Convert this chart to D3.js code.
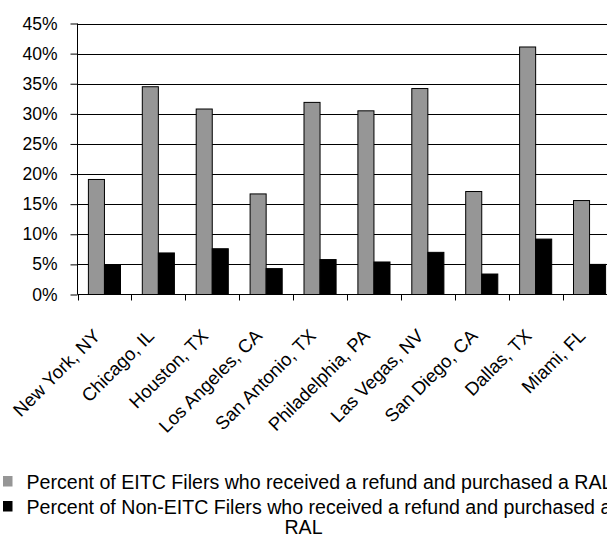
<!DOCTYPE html>
<html>
<head>
<meta charset="utf-8">
<script src="https://cdn.jsdelivr.net/npm/d3@7"></script>
<style>
  html, body { margin: 0; padding: 0; background: #fff; }
  svg { display: block; font-family: "Liberation Sans", Arial, sans-serif; }
</style>
</head>
<body>
<svg id="chart" width="607" height="543"></svg>
<script>
const categories = ["New York, NY", "Chicago, IL", "Houston, TX", "Los Angeles, CA", "San Antonio, TX",
  "Philadelphia, PA", "Las Vegas, NV", "San Diego, CA", "Dallas, TX", "Miami, FL"];
const eitcValues = [19.1, 34.5, 30.8, 16.7, 31.9, 30.5, 34.2, 17.1, 41.1, 15.6];
const nonEitcValues = [4.9, 6.9, 7.6, 4.3, 5.8, 5.4, 7.0, 3.4, 9.2, 5.0];
const seriesNames = ["Percent of EITC Filers who received a refund and purchased a RAL",
  "Percent of Non-EITC Filers who received a refund and purchased a"];
const seriesNameWrap = "RAL";
const yTicks = [0, 5, 10, 15, 20, 25, 30, 35, 40, 45];

(function () {
const seriesColors = ["#969696", "#000000"];
const svg = d3.select("#chart");

const plotLeft = 77.5, plotBottom = 294.5, plotTop = 23.5, band = 53.9;
const plotRight = plotLeft + band * categories.length;

const x0 = d3.scaleBand().domain(categories).range([plotLeft, plotRight]).padding(0);
const x1 = d3.scaleBand().domain([0, 1]).range([10.9, band - 10.9]).padding(0);
const y = d3.scaleLinear().domain([0, 45]).range([plotBottom, plotTop]);

// gridlines
svg.append("g").selectAll("line").data(yTicks.filter(d => d > 0)).join("line")
  .attr("x1", plotLeft).attr("x2", plotRight)
  .attr("y1", d => Math.round(y(d)) + 0.5).attr("y2", d => Math.round(y(d)) + 0.5)
  .attr("stroke", "#000").attr("stroke-width", 1);

// bars
const series = [eitcValues, nonEitcValues];
const groups = svg.append("g").selectAll("g").data(categories).join("g")
  .attr("transform", d => `translate(${x0(d)},0)`);
groups.selectAll("rect").data((d, i) => series.map((s, k) => ({ k, v: s[i] }))).join("rect")
  .attr("x", d => x1(d.k))
  .attr("width", x1.bandwidth())
  .attr("y", d => y(d.v))
  .attr("height", d => plotBottom - y(d.v))
  .attr("fill", d => seriesColors[d.k])
  .attr("stroke", "#000").attr("stroke-width", 1);

// y axis
const yAxis = d3.axisLeft(y).tickValues(yTicks).tickSize(7).tickPadding(13).tickFormat(d => d + "%");
const gy = svg.append("g").attr("transform", `translate(${plotLeft},0)`).call(yAxis);
gy.select(".domain").attr("d", `M0,${plotTop}V${plotBottom}`).attr("stroke", "#000");
gy.selectAll(".tick line").attr("stroke", "#000");
gy.selectAll(".tick text").attr("font-size", 17.5).attr("fill", "#000")
  .attr("font-family", "Liberation Sans, Arial, sans-serif");

// x axis
const xTickPositions = d3.range(categories.length + 1).map(i => plotLeft + i * band);
svg.append("line").attr("x1", plotLeft).attr("x2", plotRight).attr("y1", plotBottom).attr("y2", plotBottom)
  .attr("stroke", "#000");
svg.append("g").selectAll("line").data(xTickPositions).join("line")
  .attr("x1", d => Math.round(d) + 0.5).attr("x2", d => Math.round(d) + 0.5)
  .attr("y1", plotBottom).attr("y2", plotBottom + 6).attr("stroke", "#000");

svg.append("g").selectAll("text").data(categories).join("text")
  .attr("transform", d => `translate(${x0(d) + x0.bandwidth() / 2 - 3},337) rotate(-45)`)
  .attr("text-anchor", "end")
  .attr("font-size", 18.5)
  .attr("fill", "#000")
  .text(d => d);

// legend
const leg = svg.append("g");
const legY = [489, 514];
leg.selectAll("rect").data(seriesNames).join("rect")
  .attr("x", 3).attr("y", (d, i) => legY[i] - 13).attr("width", 9.5).attr("height", 10.5)
  .attr("fill", (d, i) => seriesColors[i]);
leg.selectAll("text.l").data(seriesNames).join("text").attr("class", "l")
  .attr("x", 26.5).attr("y", (d, i) => legY[i])
  .attr("font-size", 19.6).attr("fill", "#000")
  .text(d => d);
leg.append("text").attr("x", 303.5).attr("y", 533.5).attr("text-anchor", "middle")
  .attr("font-size", 19.6).attr("fill", "#000").text(seriesNameWrap);
})();
</script>
</body>
</html>
